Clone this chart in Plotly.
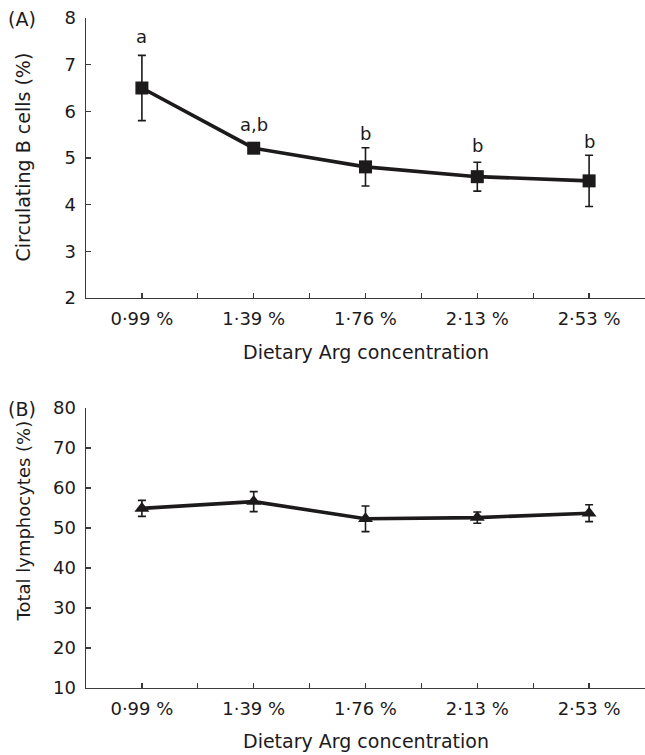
import plotly.graph_objects as go

# ---- data ----
categories = ["0·99 %", "1·39 %", "1·76 %", "2·13 %", "2·53 %"]
b_cells = [6.5, 5.21, 4.81, 4.6, 4.51]
b_cells_err = [0.7, 0.07, 0.41, 0.31, 0.55]
b_letters = ["a", "a,b", "b", "b", "b"]
lymph = [54.9, 56.6, 52.3, 52.6, 53.7]
lymph_err = [2.0, 2.5, 3.2, 1.4, 2.1]
x_title = "Dietary Arg concentration"
yA_title = "Circulating B cells (%)"
yB_title = "Total lymphocytes (%)"
yA_ticks = [2, 3, 4, 5, 6, 7, 8]
yB_ticks = [10, 20, 30, 40, 50, 60, 70, 80]

# ---- style ----
FONT = "DejaVu Sans"
INK = "#1c1a1b"
AX = "#3a3a3a"
letter_shift = [6, 8, 2, 4, 1]

xs = list(range(len(categories)))
half = [i * 0.5 for i in range(2 * len(categories) - 1)]
half_text = [categories[int(v)] if v == int(v) else "" for v in half]

fig = go.Figure()
fig.add_trace(go.Scatter(
    x=xs, y=b_cells, mode="lines+markers",
    line=dict(color=INK, width=3.6),
    marker=dict(symbol="square", size=13, color=INK),
    error_y=dict(type="data", array=b_cells_err, color=INK, thickness=1.6, width=4),
    xaxis="x", yaxis="y", showlegend=False, hoverinfo="skip",
))
fig.add_trace(go.Scatter(
    x=xs, y=lymph, mode="lines+markers",
    line=dict(color=INK, width=3.6),
    marker=dict(symbol="triangle-up", size=13, color=INK),
    error_y=dict(type="data", array=lymph_err, color=INK, thickness=1.6, width=4),
    xaxis="x2", yaxis="y2", showlegend=False, hoverinfo="skip",
))

common_x = dict(
    range=[-0.5, 4.5], tickmode="array", tickvals=half, ticktext=half_text,
    ticks="inside", ticklen=5, tickwidth=1.3, tickcolor=AX, ticklabelstandoff=4,
    showline=True, linecolor=AX, linewidth=1.4, showgrid=False, zeroline=False,
    automargin=False, fixedrange=True,
    tickfont=dict(family=FONT, size=18, color=INK),
)
common_y = dict(
    ticks="inside", ticklen=5, tickwidth=1.3, tickcolor=AX, ticklabelstandoff=5,
    showline=True, linecolor=AX, linewidth=1.4, showgrid=False, zeroline=False,
    automargin=False, fixedrange=True,
    tickfont=dict(family=FONT, size=18, color=INK),
)

fig.update_layout(
    width=645, height=755,
    margin=dict(l=86, r=0, t=18, b=67, autoexpand=False),
    paper_bgcolor="white", plot_bgcolor="white",
    xaxis=dict(common_x, domain=[0, 1], anchor="y"),
    yaxis=dict(common_y, domain=[390 / 670, 1], range=[2, 8], tickvals=yA_ticks, anchor="x"),
    xaxis2=dict(common_x, domain=[0, 1], anchor="y2"),
    yaxis2=dict(common_y, domain=[0, 280 / 670], range=[10, 80], tickvals=yB_ticks, anchor="x2"),
)

def py(px):
    return (688 - px) / 670

def pxx(px):
    return (px - 86) / 559

ann = []
for i, (v, e, t) in enumerate(zip(b_cells, b_cells_err, b_letters)):
    ann.append(dict(x=xs[i], y=v + e, xref="x", yref="y", text=t, showarrow=False,
                    yanchor="bottom", yshift=letter_shift[i],
                    font=dict(family=FONT, size=18, color=INK)))
# axis titles and panel labels
ann += [
    dict(x=0.5, y=py(352), xref="paper", yref="paper", text=x_title, showarrow=False,
         xanchor="center", yanchor="middle", font=dict(family=FONT, size=19, color=INK)),
    dict(x=0.5, y=py(741), xref="paper", yref="paper", text=x_title, showarrow=False,
         xanchor="center", yanchor="middle", font=dict(family=FONT, size=19, color=INK)),
    dict(x=pxx(22.5), y=py(157), xref="paper", yref="paper", text=yA_title, showarrow=False,
         textangle=-90, xanchor="center", yanchor="middle", font=dict(family=FONT, size=19, color=INK)),
    dict(x=pxx(22.5), y=py(521), xref="paper", yref="paper", text=yB_title, showarrow=False,
         textangle=-90, xanchor="center", yanchor="middle", font=dict(family=FONT, size=18, color=INK)),
    dict(x=pxx(22), y=py(19), xref="paper", yref="paper", text="(A)", showarrow=False,
         xanchor="center", yanchor="middle", font=dict(family=FONT, size=19, color=INK)),
    dict(x=pxx(22), y=py(409), xref="paper", yref="paper", text="(B)", showarrow=False,
         xanchor="center", yanchor="middle", font=dict(family=FONT, size=19, color=INK)),
]
fig.update_layout(annotations=ann)

post = "document.body.style.margin='0';document.body.style.overflow='hidden';"
fig.write_html("out.html", post_script=post, config={"displayModeBar": False, "staticPlot": True})
